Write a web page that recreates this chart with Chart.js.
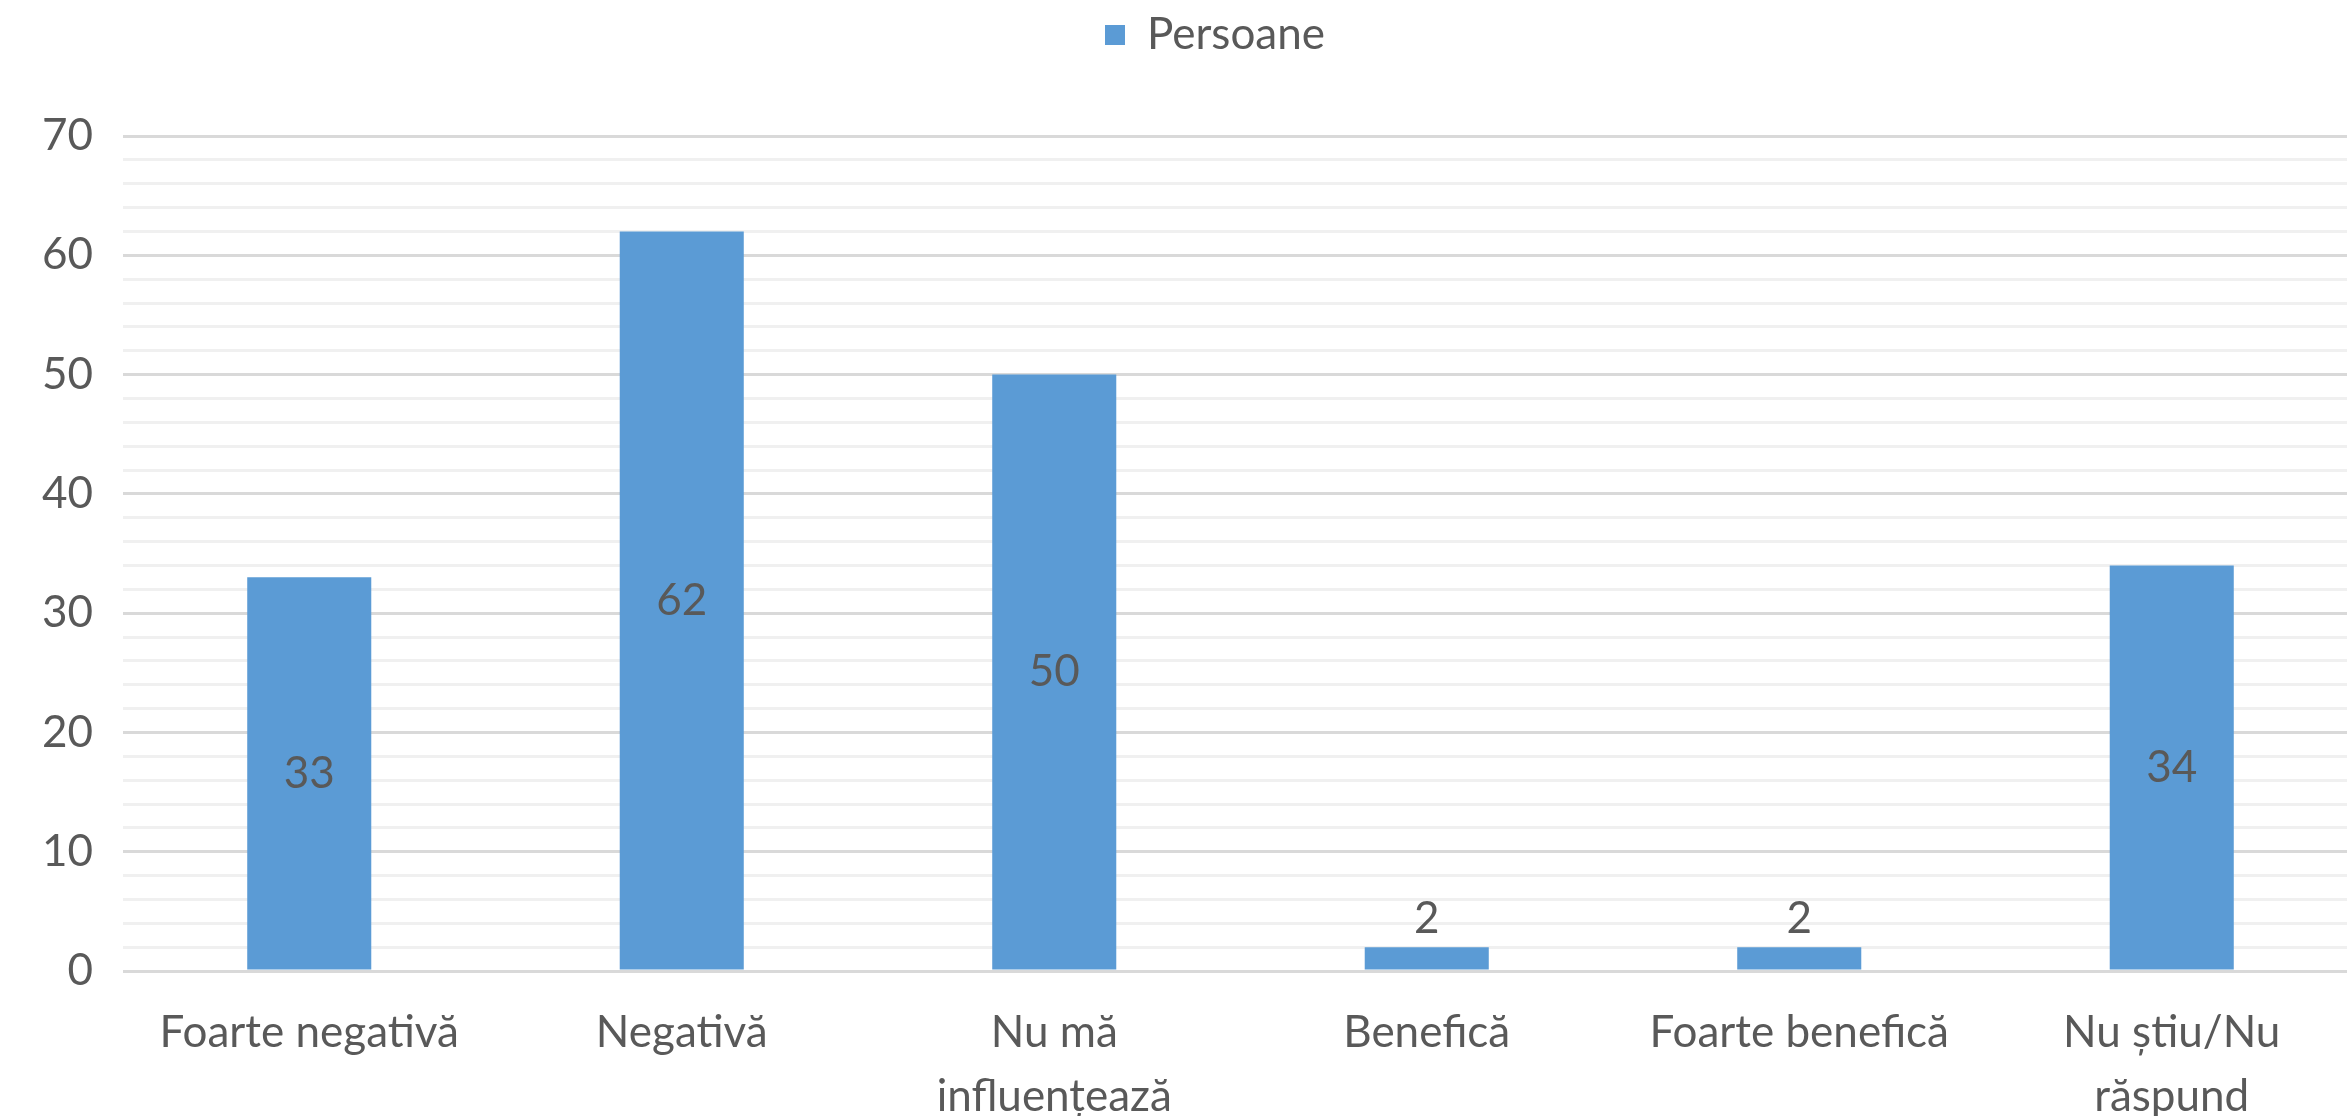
<!DOCTYPE html>
<html><head><meta charset="utf-8">
<script src="https://cdn.jsdelivr.net/npm/chart.js@4/dist/chart.umd.min.js"></script>
<style>html,body{margin:0;padding:0;overflow:hidden;background:#fff}#wrap{width:2358px;height:1116px;position:relative}</style>
</head><body><div id="wrap"><canvas id="c" width="2358" height="1116"></canvas></div>
<script>
const categories = ['Foarte negativă', 'Negativă', ['Nu mă', 'influențează'], 'Benefică', 'Foarte benefică', ['Nu știu/Nu', 'răspund']];
const seriesName = 'Persoane';
const values = [33, 62, 50, 2, 2, 34];
const yMin = 0, yMax = 70, yMajorStep = 10, yMinorStep = 2;

const TEXT = '#595959';
const FONT = 'Lato, "Open Sans", "Liberation Sans", sans-serif';
const BAR = '#5B9BD5';

const labelPlugin = {
  id: 'barLabels',
  afterInit(chart) {
    const lg = chart.legend;
    if (!lg) return;
    const fit = lg.fit.bind(lg);
    lg.fit = function () { fit(); this.height = 136; };
    const draw = lg.draw.bind(lg);
    lg.draw = function () {
      const c = this.ctx; c.save(); c.translate(36, 3); draw(); c.restore();
    };
  },
  afterDatasetsDraw(chart) {
    const ctx = chart.ctx;
    const meta = chart.getDatasetMeta(0);
    ctx.save();
    ctx.fillStyle = TEXT;
    ctx.font = '44px ' + FONT;
    ctx.textAlign = 'center';
    ctx.textBaseline = 'middle';
    meta.data.forEach((bar, i) => {
      const v = chart.data.datasets[0].data[i];
      const h = bar.base - bar.y;
      const y = h > 60 ? (bar.y + bar.base) / 2 : bar.y - 28;
      ctx.fillText(String(v), bar.x, y);
    });
    ctx.restore();
  }
};

new Chart(document.getElementById('c'), {
  type: 'bar',
  data: {
    labels: categories,
    datasets: [{
      label: seriesName,
      data: values,
      backgroundColor: BAR,
      borderWidth: 0,
      barPercentage: 0.333,
      categoryPercentage: 1
    }]
  },
  options: {
    responsive: false,
    animation: false,
    devicePixelRatio: 1,
    layout: { padding: { top: 0, left: 0, right: 0, bottom: 0 } },
    plugins: {
      legend: {
        position: 'top',
        labels: {
          color: TEXT,
          font: { family: FONT, size: 44 },
          boxWidth: 20, boxHeight: 20, padding: 10
        }
      },
      tooltip: { enabled: false }
    },
    scales: {
      x: {
        grid: { display: false, drawTicks: false },
        border: { display: false },
        ticks: {
          color: TEXT,
          font: { family: FONT, size: 44, lineHeight: 1.45 },
          padding: 30,
          maxRotation: 0,
          autoSkip: false
        },
        afterFit(scale) { scale.height = 145; }
      },
      y: {
        min: yMin, max: yMax,
        border: { display: false },
        grid: {
          drawTicks: false,
          lineWidth: 3,
          color: (c) => (c.tick && c.tick.value % yMajorStep === 0) ? '#d9d9d9' : '#f0f0f0'
        },
        ticks: {
          stepSize: yMinorStep,
          maxTicksLimit: 100,
          autoSkip: false,
          color: TEXT,
          padding: 30,
          font: { family: FONT, size: 44 },
          callback: (v) => (v % yMajorStep === 0 ? String(v) : '')
        },
        afterFit(scale) { scale.width = 123; }
      }
    }
  },
  plugins: [labelPlugin]
});
</script></body></html>
